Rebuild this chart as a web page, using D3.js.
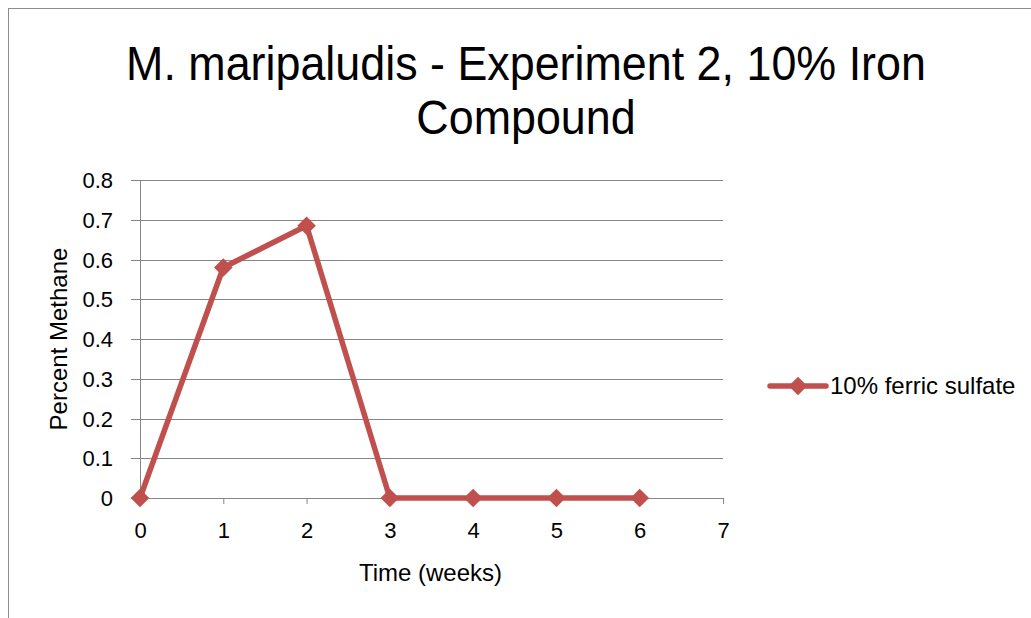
<!DOCTYPE html>
<html lang="en">
<head>
    <meta charset="UTF-8">
    <title>M. maripaludis - Experiment 2</title>
    <script src="https://d3js.org/d3.v7.min.js"></script>
    <style>
        body { margin: 0; background: white; }
        text { font-family: "Liberation Sans", sans-serif; fill: #000; }
    </style>
</head>
<body>
    <svg></svg>
    <script>
        // Chart data
        const weeks = [0, 1, 2, 3, 4, 5, 6];
        const methane = [0, 0.58, 0.685, 0, 0, 0, 0];
        const seriesName = "10% ferric sulfate";
        const titleLines = ["M. maripaludis - Experiment 2, 10% Iron", "Compound"];
        const xTicks = [0, 1, 2, 3, 4, 5, 6, 7];
        const yTicks = [0, 0.1, 0.2, 0.3, 0.4, 0.5, 0.6, 0.7, 0.8];

        const W = 1031, H = 618;
        const margin = {top: 180, right: 308, bottom: 120, left: 140},
            width = W - margin.left - margin.right,
            height = H - margin.top - margin.bottom;

        const root = d3.select("svg")
            .attr("width", W)
            .attr("height", H);

        // outer chart border
        root.append("rect")
            .attr("x", 8.5).attr("y", 8.5)
            .attr("width", W + 20).attr("height", H + 20)
            .attr("fill", "none")
            .attr("stroke", "#8c8c8c")
            .attr("stroke-width", 1);

        // Title (squeezed a bit, the original font is narrow)
        root.append("g")
            .selectAll("text")
            .data(titleLines)
            .enter()
            .append("text")
            .attr("x", 526)
            .attr("y", (d, i) => 80 + i * 54)
            .attr("text-anchor", "middle")
            .style("font-size", "48px")
            .text(d => d)
            .each(function() {
                const len = this.getComputedTextLength();
                d3.select(this)
                    .attr("textLength", len * 0.934)
                    .attr("lengthAdjust", "spacingAndGlyphs");
            });

        const svg = root.append("g")
            .attr("transform", `translate(${margin.left}, ${margin.top})`);

        const x = d3.scaleLinear().domain([0, 7]).range([0, width]);
        const y = d3.scaleLinear().domain([0, 0.8]).range([height, 0]);

        // Gridlines
        svg.append("g")
            .selectAll("line")
            .data(yTicks)
            .enter()
            .append("line")
            .attr("x1", -9)
            .attr("x2", width)
            .attr("y1", d => Math.round(y(d)) + 0.5)
            .attr("y2", d => Math.round(y(d)) + 0.5)
            .attr("stroke", "#868686")
            .attr("stroke-width", 1);

        // Y axis line
        svg.append("line")
            .attr("x1", 0.5).attr("x2", 0.5)
            .attr("y1", 0).attr("y2", height)
            .attr("stroke", "#868686");

        // Y tick labels
        svg.append("g")
            .selectAll("text")
            .data(yTicks)
            .enter()
            .append("text")
            .attr("x", -27)
            .attr("y", d => y(d) + 8)
            .attr("text-anchor", "end")
            .style("font-size", "22px")
            .text(d => d3.format("")(+d.toFixed(1)));

        // X axis
        const xAxis = svg.append("g")
            .attr("transform", `translate(0, ${height})`)
            .call(d3.axisBottom(x).tickValues(xTicks).tickSize(6).tickPadding(18).tickFormat(d3.format("d")));
        xAxis.select(".domain").attr("stroke", "#868686").attr("d", `M0.5,0.5H${width + 0.5}`);
        xAxis.selectAll(".tick line").attr("stroke", "#868686");
        xAxis.selectAll(".tick text")
            .style("font-size", "22px")
            .style("font-family", "'Liberation Sans', sans-serif");

        // Axis titles
        svg.append("text")
            .attr("x", x(3.5) - 1)
            .attr("y", height + 83)
            .attr("text-anchor", "middle")
            .style("font-size", "24px")
            .text("Time (weeks)");

        svg.append("text")
            .attr("transform", `translate(-73, ${height / 2}) rotate(-90)`)
            .attr("text-anchor", "middle")
            .style("font-size", "24px")
            .text("Percent Methane");

        const color = "#C0504D";
        const points = weeks.map((w, i) => ({week: w, value: methane[i]}));

        // Series line
        const line = d3.line()
            .x(d => x(d.week))
            .y(d => y(d.value));
        svg.append("path")
            .datum(points)
            .attr("fill", "none")
            .attr("stroke", color)
            .attr("stroke-width", 5.5)
            .attr("stroke-linejoin", "round")
            .attr("d", line);

        // Diamond markers
        const diamond = d3.symbol().type(d3.symbolDiamond2).size(220);
        svg.append("g")
            .selectAll("path")
            .data(points)
            .enter()
            .append("path")
            .attr("transform", d => `translate(${x(d.week)}, ${y(d.value)})`)
            .attr("d", diamond)
            .attr("fill", color);

        // Legend
        const legend = root.append("g").attr("transform", "translate(770, 386)");
        legend.append("line")
            .attr("x1", 0).attr("x2", 56)
            .attr("stroke", color)
            .attr("stroke-width", 5.5)
            .attr("stroke-linecap", "round");
        legend.append("path")
            .attr("transform", "translate(28, 0)")
            .attr("d", diamond)
            .attr("fill", color);
        legend.append("text")
            .attr("x", 60)
            .attr("y", 8)
            .style("font-size", "24px")
            .text(seriesName);
    </script>
</body>
</html>
